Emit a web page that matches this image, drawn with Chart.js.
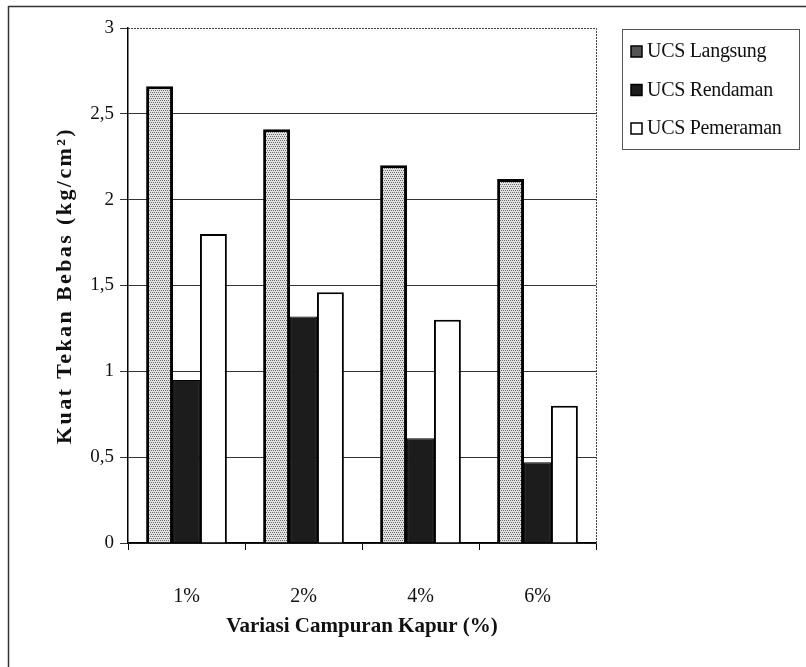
<!DOCTYPE html>
<html>
<head>
<meta charset="utf-8">
<script src="https://cdn.jsdelivr.net/npm/chart.js@4.4.0/dist/chart.umd.min.js"></script>
<style>
  html, body { margin: 0; padding: 0; background: #fff; }
  #wrap { width: 806px; height: 667px; position: relative; }
</style>
</head>
<body>
<div id="wrap"><canvas id="barChart"></canvas></div>
<script>
// data
var categories = ['1%', '2%', '4%', '6%'];
var ucsLangsung = [2.66, 2.41, 2.20, 2.12];
var ucsRendaman = [0.95, 1.32, 0.61, 0.47];
var ucsPemeraman = [1.80, 1.46, 1.30, 0.80];
var yTicks = [0, 0.5, 1, 1.5, 2, 2.5, 3];

// stippled grey fill like the scanned print
function makeStipple() {
    var c = document.createElement('canvas');
    c.width = 4; c.height = 4;
    var g = c.getContext('2d');
    g.fillStyle = '#e2e2e2';
    g.fillRect(0, 0, 4, 4);
    g.fillStyle = '#6a6a6a';
    g.fillRect(0, 0, 1, 1);
    g.fillRect(2, 0, 1, 1);
    g.fillRect(1, 2, 1, 1);
    g.fillRect(3, 2, 1, 1);
    return g.createPattern(c, 'repeat');
}
var stipple = makeStipple();

var serif = 'Liberation Serif, Times New Roman, serif';

// wider letter spacing on the y title, like the original
var spacedTitle = {
    id: 'spacedTitle',
    beforeDraw: function (chart) {
        var s = chart.scales.y;
        if (s._spaced) return;
        var orig = s.drawTitle;
        s.drawTitle = function () {
            this.ctx.save();
            this.ctx.letterSpacing = '2.4px';
            orig.apply(this, arguments);
            this.ctx.restore();
        };
        s._spaced = true;
    }
};

var frameAndLegend = {
    id: 'frameAndLegend',
    afterDraw: function (chart) {
        var c = chart.ctx, a = chart.chartArea;
        c.save();
        // outer frame of the figure
        c.strokeStyle = '#333';
        c.lineWidth = 1.5;
        c.beginPath();
        c.moveTo(8.5, 667);
        c.lineTo(8.5, 6.5);
        c.lineTo(806, 6.5);
        c.stroke();
        // dotted top / right plot border
        c.strokeStyle = '#444';
        c.lineWidth = 1;
        c.setLineDash([2, 1]);
        c.beginPath();
        c.moveTo(a.left, a.top + 0.5);
        c.lineTo(a.right + 0.5, a.top + 0.5);
        c.lineTo(a.right + 0.5, a.bottom);
        c.stroke();
        c.setLineDash([]);
        // legend box
        var bx = 622, by = 29, bw = 177, bh = 120;
        c.strokeStyle = '#555';
        c.lineWidth = 1;
        c.strokeRect(bx + 0.5, by + 0.5, bw, bh);
        c.font = '20px ' + serif;
        c.textBaseline = 'middle';
        c.letterSpacing = '-0.3px';
        chart.data.datasets.forEach(function (ds, i) {
            var y = by + 23 + i * 38.5;
            c.fillStyle = i === 0 ? '#555' : ds.backgroundColor;
            c.fillRect(bx + 9, y - 6, 11, 11);
            c.strokeStyle = '#000';
            c.lineWidth = 1.5;
            c.strokeRect(bx + 9, y - 6, 11, 11);
            c.fillStyle = '#111';
            c.fillText(ds.label, bx + 25, y);
        });
        c.restore();
    }
};

var ctx = document.getElementById('barChart').getContext('2d');
var myChart = new Chart(ctx, {
    type: 'bar',
    data: {
        labels: categories,
        datasets: [
            {
                label: 'UCS Langsung',
                data: ucsLangsung,
                backgroundColor: stipple,
                borderColor: '#000',
                borderWidth: 3
            },
            {
                label: 'UCS Rendaman',
                data: ucsRendaman,
                backgroundColor: '#1c1c1c',
                borderColor: '#000',
                borderWidth: 1
            },
            {
                label: 'UCS Pemeraman',
                data: ucsPemeraman,
                backgroundColor: '#ffffff',
                borderColor: '#000',
                borderWidth: 2
            }
        ]
    },
    options: {
        responsive: true,
        maintainAspectRatio: false,
        animation: false,
        datasets: {
            bar: { categoryPercentage: 0.69, barPercentage: 1.0 }
        },
        layout: { padding: { top: 28, right: 210, left: 0, bottom: 0 } },
        plugins: {
            legend: { display: false },
            tooltip: { enabled: false }
        },
        scales: {
            x: {
                afterFit: function (s) { s.height = 124; },
                grid: {
                    drawOnChartArea: false,
                    drawTicks: true,
                    tickLength: 7,
                    color: '#000',
                    offset: true
                },
                border: { color: '#000', width: 1.5 },
                ticks: {
                    color: '#111',
                    padding: 35,
                    font: { family: serif, size: 20 }
                },
                title: {
                    display: true,
                    text: 'Variasi Campuran Kapur (%)',
                    color: '#111',
                    padding: { top: 0, bottom: 28 },
                    font: { family: serif, size: 21, weight: 'bold' }
                }
            },
            y: {
                min: 0,
                max: 3,
                afterFit: function (s) { s.width = 128; },
                afterBuildTicks: function (s) {
                    s.ticks = yTicks.map(function (v) { return { value: v }; });
                },
                grid: {
                    color: function (c) {
                        return c.tick && c.tick.value === 3 ? 'rgba(0,0,0,0)' : '#333';
                    },
                    tickColor: '#333',
                    lineWidth: 1,
                    tickLength: 8
                },
                border: { color: '#000', width: 1.5 },
                ticks: {
                    color: '#111',
                    padding: 6,
                    font: { family: serif, size: 19 },
                    callback: function (v) { return String(v).replace('.', ','); }
                },
                title: {
                    display: true,
                    text: 'Kuat Tekan Bebas (kg/cm\u00B2)',
                    color: '#111',
                    padding: { top: 52, bottom: 0 },
                    font: { family: serif, size: 22, weight: 'bold' }
                }
            }
        }
    },
    plugins: [spacedTitle, frameAndLegend]
});
</script>
</body>
</html>
